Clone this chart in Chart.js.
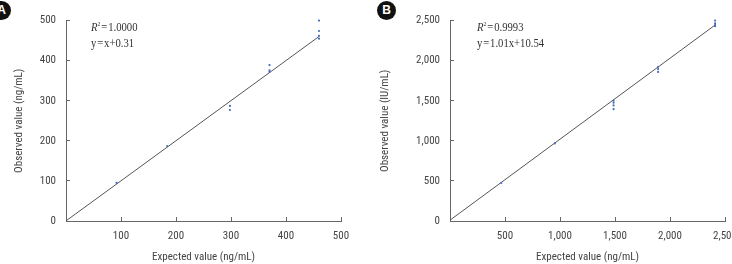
<!DOCTYPE html>
<html>
<head>
<meta charset="utf-8">
<script src="https://cdn.jsdelivr.net/npm/chart.js@4.4.0/dist/chart.umd.min.js"></script>
<style>
  html, body { margin: 0; padding: 0; background: #fff; }
  body { width: 732px; height: 264px; overflow: hidden; position: relative; }
  .panel { position: absolute; top: 0; height: 264px; }
  .badge {
    position: absolute; width: 19px; height: 19px; border-radius: 50%;
    background: #111; color: #fff; font: bold 12px "Liberation Sans", Arial, sans-serif;
    text-align: center; line-height: 19px;
  }
  .note {
    position: absolute; font: 13px "Liberation Serif", "Times New Roman", serif;
    color: #333; line-height: 16px; white-space: nowrap;
    transform: scaleX(0.82); transform-origin: 0 0;
  }
  .note i sup { font-size: 7px; font-style: normal; }
</style>
</head>
<body>
<div class="badge" style="left:-8px; top:1px;">A</div>
<div class="badge" style="left:377px; top:1px;">B</div>

<div class="panel" style="left:0; width:366px;"><canvas id="chartA"></canvas></div>
<div class="panel" style="left:366px; width:384px;"><canvas id="chartB"></canvas></div>

<div class="note" style="left:91px; top:16px;"><i>R<sup>2</sup></i>&#8202;=&#8202;1.0000<br>y&#8202;=&#8202;x+0.31</div>
<div class="note" style="left:477px; top:16px;"><i>R<sup>2</sup></i>&#8202;=&#8202;0.9993<br>y&#8202;=&#8202;1.01x+10.54</div>

<script>
// Panel A: expected vs observed (ng/mL)
const aExpected = [92, 184, 298, 370, 460];
const aObserved = [[95], [187], [287, 277], [389, 376, 372], [500, 474, 462, 455]];
const aFitX = [0, 460];
const aFitY = [0.31, 460.31];
const aXTicks = [100, 200, 300, 400, 500];
const aYTicks = [0, 100, 200, 300, 400, 500];

// Panel B: expected (ng/mL) vs observed (IU/mL)
const bExpected = [466, 953, 1487, 1892, 2410];
const bObserved = [[474], [968], [1501, 1476, 1442, 1395], [1923, 1895, 1860], [2500, 2465, 2445, 2430]];
const bFitX = [0, 2410];
const bFitY = [10.54, 2444.64];
const bXTicks = [500, 1000, 1500, 2000, 2500];
const bYTicks = [0, 500, 1000, 1500, 2000, 2500];

// weight slot carries the stretch keyword into the canvas font string
const tickFont = { family: "Roboto, sans-serif", size: 11, weight: 'condensed' };
const axisColor = '#666';
const textColor = '#444';

function pointsOf(xs, ys) {
  const pts = [];
  xs.forEach((x, i) => ys[i].forEach(y => pts.push({ x: x, y: y })));
  return pts;
}

function makeChart(id, opts) {
  return new Chart(document.getElementById(id), {
    data: {
      datasets: [
        {
          type: 'line',
          data: opts.fitX.map((x, i) => ({ x: x, y: opts.fitY[i] })),
          borderColor: '#555',
          borderWidth: 1,
          pointRadius: 0,
          clip: false,
          order: 2
        },
        {
          type: 'scatter',
          data: pointsOf(opts.expected, opts.observed),
          backgroundColor: '#4a6cbc',
          borderWidth: 0,
          pointRadius: 1.1,
          clip: false,
          order: 1
        }
      ]
    },
    options: {
      responsive: true,
      maintainAspectRatio: false,
      animation: false,
      events: [],
      layout: { padding: { left: 0, right: opts.padRight, top: 10, bottom: 0 } },
      plugins: { legend: { display: false }, tooltip: { enabled: false } },
      scales: {
        x: {
          type: 'linear',
          min: 0, max: opts.xTicks[opts.xTicks.length - 1],
          afterBuildTicks: s => { s.ticks = [0].concat(opts.xTicks).map(v => ({ value: v })); },
          afterFit: s => { s.height = 43; },
          border: { color: axisColor, width: 1 },
          grid: { drawOnChartArea: false, drawTicks: true, tickLength: -4, color: axisColor },
          ticks: {
            padding: 13, color: textColor, font: tickFont, maxRotation: 0, autoSkip: false,
            callback: v => v === 0 ? '' : v.toLocaleString('en-US')
          },
          title: {
            display: true, text: 'Expected value (ng/mL)', color: textColor, font: tickFont,
            padding: { top: 0, bottom: 0 }
          }
        },
        y: {
          type: 'linear',
          min: 0, max: opts.yTicks[opts.yTicks.length - 1],
          afterBuildTicks: s => { s.ticks = opts.yTicks.map(v => ({ value: v })); },
          afterFit: s => { s.width = opts.yWidth; },
          border: { color: axisColor, width: 1 },
          grid: { drawOnChartArea: false, drawTicks: true, tickLength: -4, color: axisColor },
          ticks: {
            padding: 14, color: textColor, font: tickFont, autoSkip: false,
            callback: v => v.toLocaleString('en-US')
          },
          title: {
            display: true, text: opts.yTitle, color: textColor, font: tickFont,
            padding: { top: opts.yTitlePad, bottom: 0 }
          }
        }
      }
    }
  });
}

makeChart('chartA', {
  expected: aExpected, observed: aObserved, fitX: aFitX, fitY: aFitY,
  xTicks: aXTicks, yTicks: aYTicks, yTitle: 'Observed value (ng/mL)',
  yWidth: 66, yTitlePad: 13, padRight: 25
});

makeChart('chartB', {
  expected: bExpected, observed: bObserved, fitX: bFitX, fitY: bFitY,
  xTicks: bXTicks, yTicks: bYTicks, yTitle: 'Observed value (IU/mL)',
  yWidth: 84, yTitlePad: 13, padRight: 25
});
</script>
</body>
</html>
